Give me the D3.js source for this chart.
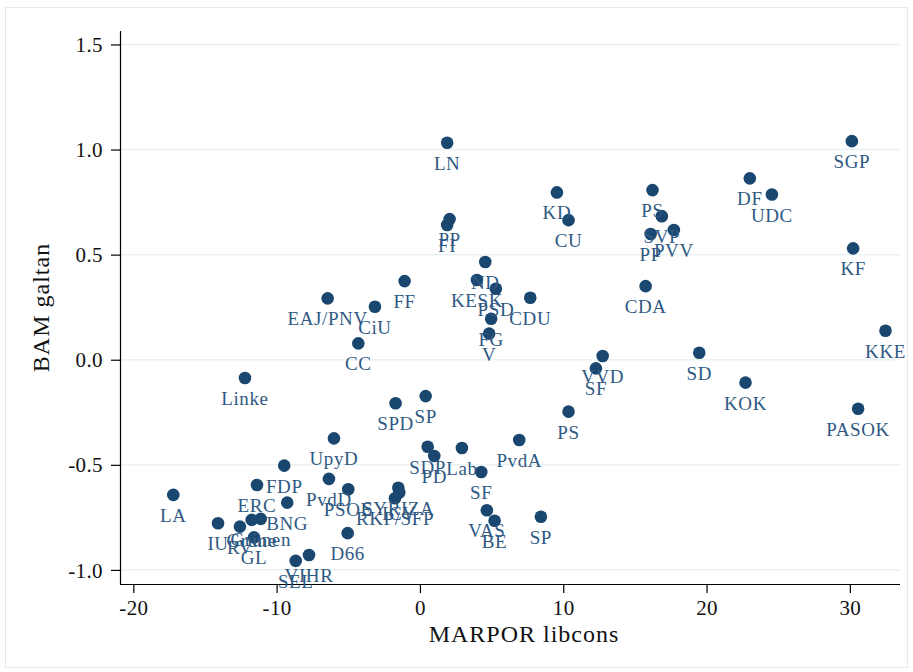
<!DOCTYPE html>
<html>
<head>
<meta charset="utf-8">
<script src="https://cdn.jsdelivr.net/npm/d3@7"></script>
<style>
    body { margin: 0; background: #fff; }
    svg { display: block; }
    text { font-family: "Liberation Serif", "Times New Roman", serif; }
</style>
</head>
<body>
<svg id="chart"></svg>
<script>
// party labels, MARPOR libcons (x) and BAM galtan (y)
var parties = ["LN", "SGP", "KD", "CU", "PS", "DF", "UDC", "SVP", "PP", "FI",
    "PP", "PVV", "KF", "ND", "KESK", "PSD", "CDU", "CDA", "FF", "EAJ/PNV",
    "CiU", "CC", "FG", "V", "KKE", "VVD", "SF", "SD", "KOK", "PASOK",
    "PS", "Linke", "SPD", "SP", "UpyD", "SDP", "PD", "Lab", "PvdA", "SF",
    "VAS", "BE", "SP", "FDP", "ERC", "PvdD", "PSOE", "BNG", "SYRIZA", "ICV",
    "RKP/SFP", "D66", "LA", "IU", "RV", "Grüne", "Grünen", "GL", "SEL", "VIHR"]
var libcons = [1.90, 30.14, 9.56, 10.37, 16.23, 23.02, 24.56, 16.88, 2.07, 1.90,
    16.10, 17.72, 30.23, 4.56, 3.98, 5.30, 7.70, 15.75, -1.07, -6.44,
    -3.14, -4.30, 4.97, 4.83, 32.49, 12.75, 12.28, 19.49, 22.72, 30.58,
    10.37, -12.21, -1.70, 0.40, -6.00, 0.54, 1.00, 2.93, 6.93, 4.28,
    4.67, 5.21, 8.44, -9.47, -11.37, -6.35, -5.00, -9.26, -1.51, -1.44,
    -1.74, -5.04, -17.21, -14.09, -12.56, -11.74, -11.11, -11.58, -8.67, -7.74]
var galtan = [1.032, 1.040, 0.796, 0.664, 0.807, 0.863, 0.786, 0.683, 0.669, 0.641,
    0.598, 0.617, 0.530, 0.465, 0.379, 0.338, 0.295, 0.350, 0.374, 0.292,
    0.252, 0.078, 0.195, 0.124, 0.138, 0.018, -0.041, 0.033, -0.109, -0.233,
    -0.247, -0.087, -0.207, -0.173, -0.374, -0.414, -0.458, -0.420, -0.382, -0.534,
    -0.716, -0.766, -0.747, -0.504, -0.596, -0.567, -0.616, -0.680, -0.609, -0.632,
    -0.659, -0.825, -0.643, -0.778, -0.794, -0.762, -0.757, -0.845, -0.957, -0.929]
var xTicks = [-20, -10, 0, 10, 20, 30]
var yTicks = [1.5, 1.0, 0.5, 0.0, -0.5, -1.0]

var width = 913, height = 672
var svg = d3.select("#chart")
    .attr("width", width)
    .attr("height", height)

var pLeft = 120, pRight = 900, pTop = 31, pBottom = 584
var navy = "#1a476f"

// outer frame
svg.append("rect")
    .attr("x", 5.5).attr("y", 7.5)
    .attr("width", 902).attr("height", 660)
    .attr("fill", "#fff")
    .attr("stroke", "#e3eaec")

var x = d3.scaleLinear().domain([-20.93, 33.5]).range([pLeft, pRight])
var y = d3.scaleLinear().domain([-1.067, 1.564]).range([pBottom, pTop])

// grid
svg.append("g")
    .selectAll("line")
    .data(yTicks)
    .enter()
    .append("line")
        .attr("x1", pLeft).attr("x2", pRight)
        .attr("y1", d => y(d)).attr("y2", d => y(d))
        .attr("stroke", "#eaf1f3")
        .attr("stroke-width", 1.5)

var xAxis = svg.append("g")
    .attr("transform", "translate(0," + pBottom + ")")
    .call(d3.axisBottom(x).tickValues(xTicks).tickSize(9).tickPadding(6)
        .tickFormat(d => String(d)))
var yAxis = svg.append("g")
    .attr("transform", "translate(" + pLeft + ",0)")
    .call(d3.axisLeft(y).tickValues(yTicks).tickSize(9).tickPadding(8)
        .tickFormat(d => d3.format(".1f")(d).replace("−", "-")))

xAxis.select(".domain").attr("d", "M" + pLeft + ",0.5H" + pRight)
yAxis.select(".domain").attr("d", "M0.5," + pTop + "V" + pBottom)
svg.selectAll(".domain, .tick line").attr("stroke", "#000").attr("stroke-width", 1.2)
svg.selectAll(".tick text")
    .attr("fill", "#111")
    .style("font-family", "Liberation Serif, serif")
    .style("font-size", "21px")
    .style("letter-spacing", "0.4px")
yAxis.selectAll(".tick text").attr("dy", "0.34em")
xAxis.selectAll(".tick text").attr("dy", "0.78em")

// axis titles
svg.append("text")
    .attr("x", (pLeft + pRight) / 2 + 14)
    .attr("y", 642)
    .attr("text-anchor", "middle")
    .attr("fill", "#111")
    .style("font-size", "24px")
    .style("letter-spacing", "1px")
    .text("MARPOR libcons")
svg.append("text")
    .attr("transform", "translate(49," + ((pTop + pBottom) / 2) + ") rotate(-90)")
    .attr("text-anchor", "middle")
    .attr("fill", "#111")
    .style("font-size", "24px")
    .style("letter-spacing", "1px")
    .text("BAM galtan")

var pts = parties.map((p, i) => [p, libcons[i], galtan[i]])

svg.append("g")
    .selectAll("circle")
    .data(pts)
    .enter()
    .append("circle")
        .attr("cx", d => x(d[1]))
        .attr("cy", d => y(d[2]))
        .attr("r", 6.3)
        .attr("fill", navy)

svg.append("g")
    .selectAll("text")
    .data(pts)
    .enter()
    .append("text")
        .attr("x", d => x(d[1]))
        .attr("y", d => y(d[2]) + 27)
        .attr("text-anchor", "middle")
        .attr("fill", "#2f5983")
        .style("font-size", "19px")
        .style("letter-spacing", "0.6px")
        .text(d => d[0])
</script>
</body>
</html>
